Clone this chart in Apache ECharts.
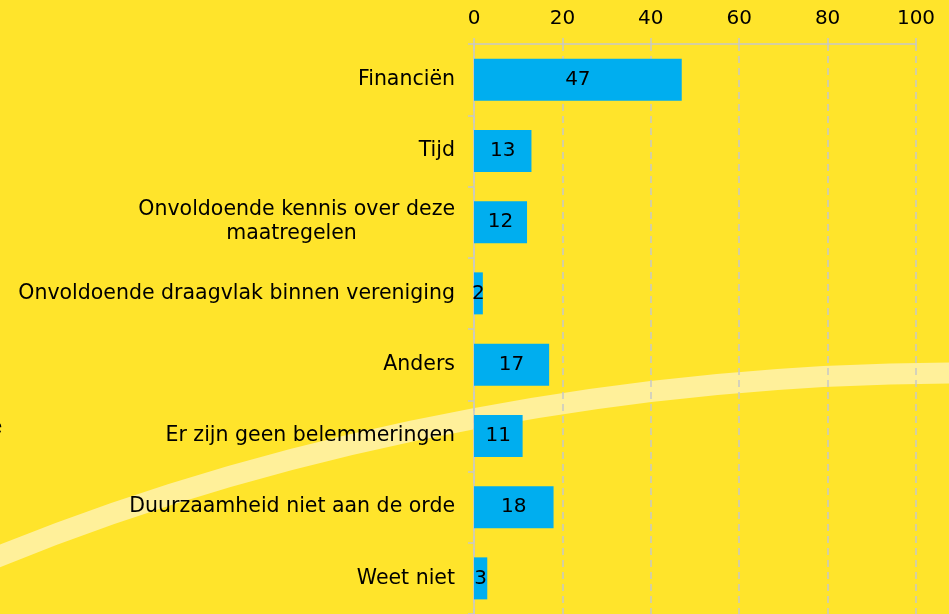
<!DOCTYPE html>
<html>
<head>
<meta charset="utf-8">
<script src="https://cdn.jsdelivr.net/npm/echarts@6/dist/echarts.min.js"></script>
<style>
  html, body { margin: 0; padding: 0; background: #FFE42B; }
  #chart { width: 949px; height: 614px; }
</style>
</head>
<body>
<div id="chart"></div>
<script>
const categories = [
  'Financiën',
  'Tijd',
  'Onvoldoende kennis over deze\nmaatregelen',
  'Onvoldoende draagvlak binnen vereniging',
  'Anders',
  'Er zijn geen belemmeringen',
  'Duurzaamheid niet aan de orde',
  'Weet niet'
];
const values = [47, 13, 12, 2, 17, 11, 18, 3];
const xTicks = [0, 20, 40, 60, 80, 100];

const chart = echarts.init(document.getElementById('chart'));

const option = {
  backgroundColor: '#FFE42B',
  animation: false,
  textStyle: { fontFamily: 'DejaVu Sans' },
  grid: {
    left: 474,
    right: 33,
    top: 44,
    bottom: -3,
    containLabel: false
  },
  graphic: [
    {
      type: 'bezierCurve',
      z: -10,
      silent: true,
      shape: { x1: -10, y1: 560, cpx1: 300, cpy1: 432, cpx2: 650, cpy2: 373, x2: 960, y2: 373 },
      style: { stroke: '#FFF09A', lineWidth: 21, fill: null }
    },
    {
      type: 'text',
      left: -10,
      top: 418,
      style: { text: 'e', fontSize: 20, fill: '#000', fontFamily: 'DejaVu Sans' }
    }
  ],
  xAxis: {
    type: 'value',
    position: 'top',
    min: 0,
    max: 100,
    interval: 20,
    axisLine: { show: true, lineStyle: { color: '#C8C8C8', width: 1.5 } },
    axisTick: { show: true, length: 6, lineStyle: { color: '#C8C8C8', width: 1.5 } },
    axisLabel: {
      color: '#000',
      fontSize: 20,
      margin: 15,
      formatter: v => (xTicks.indexOf(v) >= 0 ? String(v) : '')
    },
    splitLine: { show: true, lineStyle: { color: '#C8C8C8', type: [7, 5], width: 1.5 } }
  },
  yAxis: {
    type: 'category',
    inverse: true,
    data: categories,
    axisLine: { show: true, lineStyle: { color: '#C8C8C8', width: 1.5 } },
    axisTick: { show: true, length: 6, lineStyle: { color: '#C8C8C8', width: 1.5 } },
    axisLabel: {
      color: '#000',
      fontSize: 20.5,
      margin: 19,
      lineHeight: 24,
      formatter: function (name) {
        if (name.indexOf('\n') >= 0) {
          const parts = name.split('\n');
          return '{a|' + parts[0] + '}\n{b|' + parts[1] + '}';
        }
        return name;
      },
      rich: {
        a: { fontSize: 20.5, color: '#000', lineHeight: 24 },
        b: { fontSize: 20.5, color: '#000', lineHeight: 24, width: 327, align: 'center' }
      }
    }
  },
  series: [
    {
      type: 'bar',
      data: values,
      barWidth: 42,
      itemStyle: { color: '#00AEEF' },
      label: {
        show: true,
        position: 'inside',
        color: '#000',
        fontSize: 20,
        fontFamily: 'DejaVu Sans'
      }
    }
  ]
};

chart.setOption(option);
</script>
</body>
</html>
